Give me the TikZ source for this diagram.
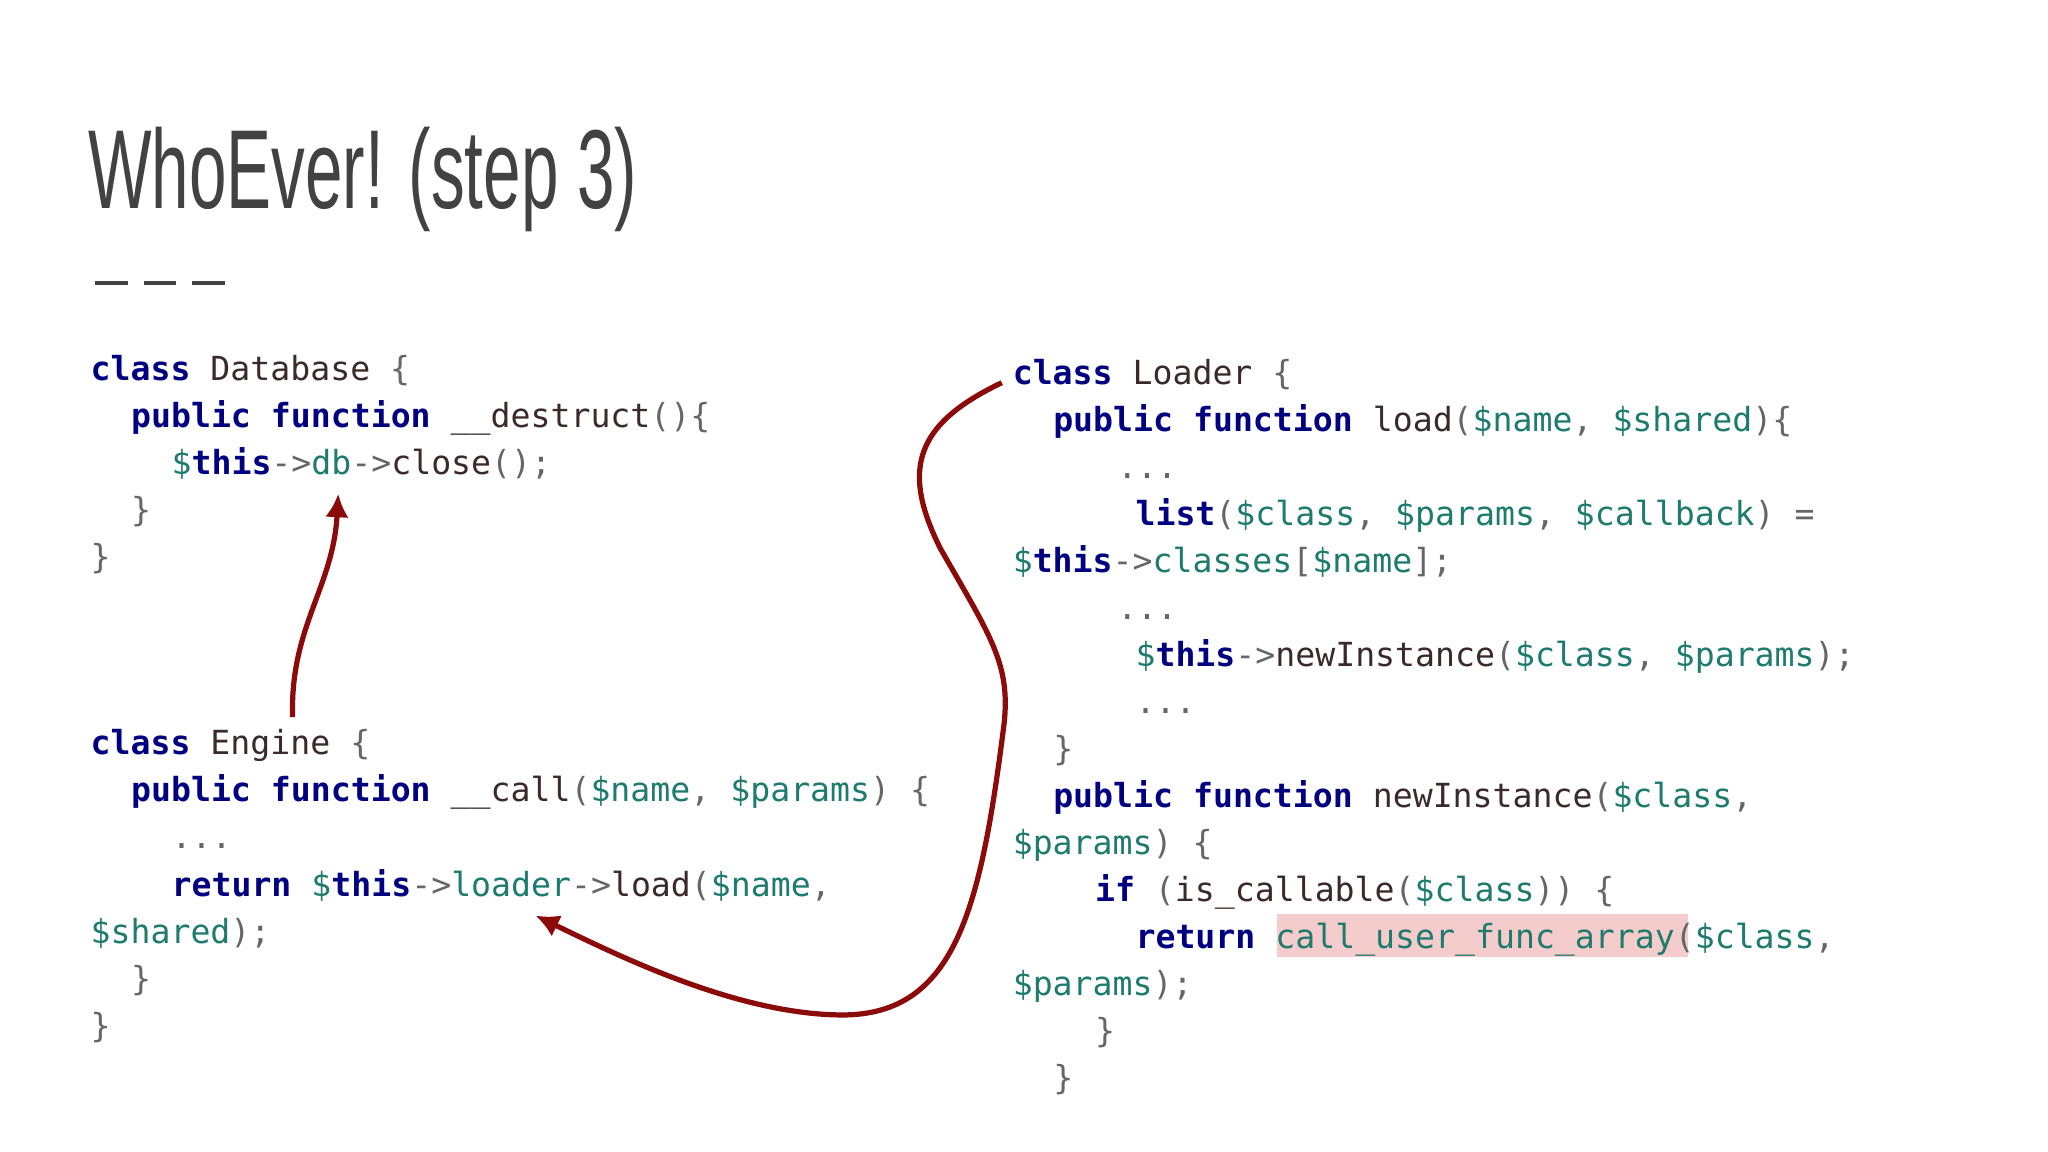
\documentclass[tikz,border=0pt]{standalone}
\usepackage{fontspec}
\usepackage{graphicx}
\usetikzlibrary{arrows.meta}
\newfontfamily\codefont{DejaVu Sans Mono}
\newfontfamily\titlefont{Liberation Sans}
\definecolor{kw}{HTML}{000080}
\definecolor{vr}{HTML}{1E7B6E}
\definecolor{pu}{HTML}{666666}
\definecolor{fn}{HTML}{3A2A2A}
\definecolor{arr}{HTML}{8B0A0A}
\definecolor{hl}{HTML}{F4CCCC}
\definecolor{ttl}{HTML}{424242}
\newcommand\Kw[1]{\textcolor{kw}{\bfseries #1}}
\newcommand\Vr[1]{\textcolor{vr}{#1}}
\newcommand\Pn[1]{\textcolor{pu}{#1}}
\newcommand\Fn[1]{\textcolor{fn}{#1}}
\newcommand\This{\Vr{\$}\Kw{this}}
\begin{document}
\begin{tikzpicture}[x=0.5pt,y=-0.5pt,
  code/.style={anchor=base west,inner sep=0pt,font=\codefont\fontsize{12.7}{15}\selectfont,text=fn},
  arrline/.style={draw=arr,line width=2pt,-{Latex[length=9pt,width=9pt]}}]
\useasboundingbox[fill=white] (0,0) rectangle (1568,882);
\node[anchor=base west,inner sep=0pt,text=ttl] (title) at (67,160)
  {\scalebox{0.6}[1]{\titlefont\fontsize{43}{50}\selectfont WhoEver! (step 3)}};
\foreach \i/\a in {0/73,1/110,2/147} \draw[ttl,line width=1.5pt] (\a,217) -- ++(25,0);
% highlight
\fill[hl] (978,700) rectangle (1292,733);
% Left: Database
\node[code] (d1) at (69,291) {\Kw{class} Database \Pn{\{}};
\node[code] (d2) at (100,327) {\Kw{public function} \Fn{\_\_destruct}\Pn{()\{}};
\node[code] (d3) at (131,363) {\This\Pn{->}\Vr{db}\Pn{->}close\Pn{();}};
\node[code] (d4) at (100,399) {\Pn{\}}};
\node[code] (d5) at (69,435) {\Pn{\}}};
% Engine
\node[code] (e1) at (69,578) {\Kw{class} Engine \Pn{\{}};
\node[code] (e2) at (100,614) {\Kw{public function} \_\_call\Pn{(}\Vr{\$name}\Pn{,} \Vr{\$params}\Pn{)} \Pn{\{}};
\node[code] (e3) at (131,650) {\Pn{...}};
\node[code] (e4) at (131,686) {\Kw{return} \This\Pn{->}\Vr{loader}\Pn{->}load\Pn{(}\Vr{\$name}\Pn{,}};
\node[code] (e5) at (69,722) {\Vr{\$shared}\Pn{);}};
\node[code] (e6) at (100,758) {\Pn{\}}};
\node[code] (e7) at (69,794) {\Pn{\}}};
% Loader
\node[code] (l1) at (775,294) {\Kw{class} Loader \Pn{\{}};
\node[code] (l2) at (806,330) {\Kw{public function} load\Pn{(}\Vr{\$name}\Pn{,} \Vr{\$shared}\Pn{)\{}};
\node[code] (l3) at (855,366) {\Pn{...}};
\node[code] (l4) at (869,402) {\Kw{list}\Pn{(}\Vr{\$class}\Pn{,} \Vr{\$params}\Pn{,} \Vr{\$callback}\Pn{)} \Pn{=}};
\node[code] (l5) at (775,438) {\This\Pn{->}\Vr{classes}\Pn{[}\Vr{\$name}\Pn{];}};
\node[code] (l6) at (855,474) {\Pn{...}};
\node[code] (l7) at (869,510) {\This\Pn{->}newInstance\Pn{(}\Vr{\$class}\Pn{,} \Vr{\$params}\Pn{);}};
\node[code] (l8) at (869,546) {\Pn{...}};
\node[code] (l9) at (806,582) {\Pn{\}}};
\node[code] (l10) at (806,618) {\Kw{public function} newInstance\Pn{(}\Vr{\$class}\Pn{,}};
\node[code] (l11) at (775,654) {\Vr{\$params}\Pn{)} \Pn{\{}};
\node[code] (l12) at (838,690) {\Kw{if} \Pn{(}is\_callable\Pn{(}\Vr{\$class}\Pn{))} \Pn{\{}};
\node[code] (l13) at (869,726) {\Kw{return} \Vr{call\_user\_func\_array}\Pn{(}\Vr{\$class}\Pn{,}};
\node[code] (l14) at (775,762) {\Vr{\$params}\Pn{);}};
\node[code] (l15) at (838,798) {\Pn{\}}};
\node[code] (l16) at (806,834) {\Pn{\}}};
% arrows
\coordinate (a1s) at (224,549);
\coordinate (a1e) at (259,378);
\draw[arrline] (a1s) .. controls (222,480) and (255,450) .. (a1e);
\coordinate (a2s) at (767,293);
\coordinate (a2e) at (410,701);
\draw[arrline] (a2s) .. controls (700,325) and (690,360) .. (720,420)
  .. controls (760,490) and (775,510) .. (768,560)
  .. controls (750,700) and (730,780) .. (640,777)
  .. controls (560,775) and (470,730) .. (a2e);
\end{tikzpicture}
\end{document}
